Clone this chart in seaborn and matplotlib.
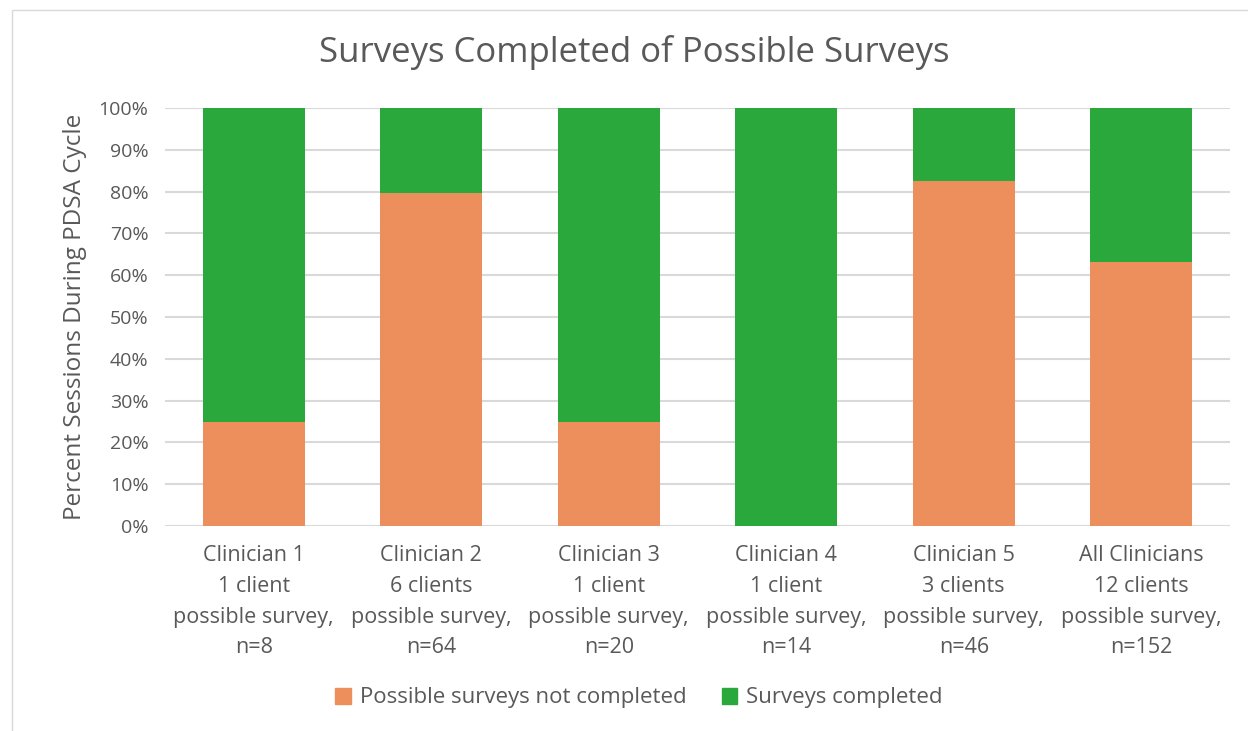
import numpy as np
import pandas as pd
import seaborn as sns
import matplotlib.pyplot as plt
from matplotlib.patches import Rectangle, Patch

# data
labels = ['Clinician 1\n1 client\npossible survey,\nn=8',
          'Clinician 2\n6 clients\npossible survey,\nn=64',
          'Clinician 3\n1 client\npossible survey,\nn=20',
          'Clinician 4\n1 client\npossible survey,\nn=14',
          'Clinician 5\n3 clients\npossible survey,\nn=46',
          'All Clinicians\n12 clients\npossible survey,\nn=152']
not_completed = [25.0, 79.7, 25.0, 0.0, 82.6, 63.2]
completed = [75.0, 20.3, 75.0, 100.0, 17.4, 36.8]

orange = '#ED8F5D'
green = '#2BA83B'
gray = '#595959'

df = pd.DataFrame({'label': labels, 'not_completed': not_completed,
                   'completed': completed})
df['total'] = df['not_completed'] + df['completed']

sns.set_theme(style='white')
plt.rcParams['font.family'] = ['Open Sans', 'DejaVu Sans']

fig = plt.figure(figsize=(12.48, 7.31), dpi=100)
ax = fig.add_axes([165/1248, 1 - 526/731, 1065/1248, 418/731])

sns.barplot(data=df, x='label', y='total', color=green, width=0.575,
            saturation=1, linewidth=0, ax=ax, zorder=3)
sns.barplot(data=df, x='label', y='not_completed', color=orange, width=0.575,
            saturation=1, linewidth=0, ax=ax, zorder=4)

ax.set_xlim(-0.5, len(labels) - 0.5)
ax.set_ylim(0, 100)
ax.set_yticks(np.arange(0, 101, 10))
ax.set_yticklabels([f'{v}%' for v in range(0, 101, 10)])
ax.yaxis.grid(True, color='#d9d9d9', linewidth=1.5, zorder=0)
ax.set_axisbelow(True)
for s in ax.spines.values():
    s.set_visible(False)
ax.tick_params(axis='both', length=0, labelcolor=gray)
ax.tick_params(axis='x', pad=14, labelsize=15.5)
ax.tick_params(axis='y', pad=12, labelsize=14)
for t in ax.get_xticklabels():
    t.set_linespacing(1.6)
ax.set_xlabel('')
ax.set_ylabel('Percent Sessions During PDSA Cycle', fontsize=17.5, color=gray,
              labelpad=8)

fig.text(0.508, 1 - 53/731, 'Surveys Completed of Possible Surveys',
         ha='center', va='center', fontsize=25, color=gray)

handles = [Patch(color=orange, label='Possible surveys not completed'),
           Patch(color=green, label='Surveys completed')]
fig.legend(handles=handles, loc='center', bbox_to_anchor=(0.512, 1 - 698/731),
           ncol=2, frameon=False, fontsize=16, labelcolor=gray,
           handlelength=0.7, handleheight=0.7, columnspacing=1.6,
           handletextpad=0.4)

fig.patches.append(Rectangle((12/1248, -0.1), 1.2, 1 - 10/731 + 0.1,
                             transform=fig.transFigure, fill=False,
                             edgecolor='#d9d9d9', linewidth=1))

fig.savefig('out.png', dpi=100)
